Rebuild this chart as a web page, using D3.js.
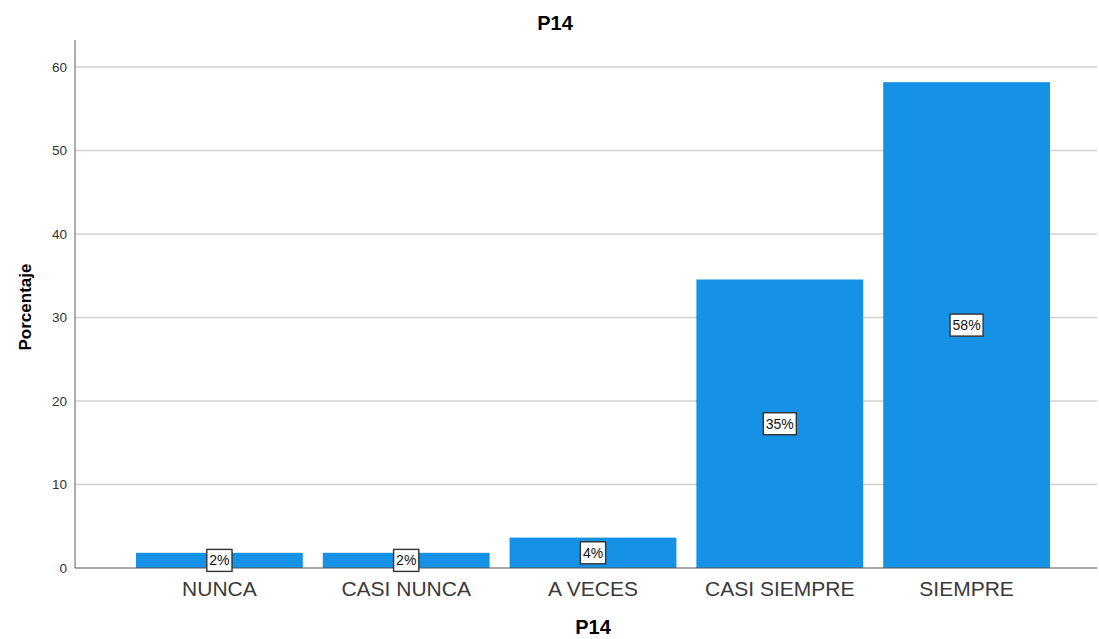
<!DOCTYPE html>
<html>
<head>
<meta charset="utf-8">
<script src="https://cdn.jsdelivr.net/npm/d3@7"></script>
<style>
  html, body { margin: 0; padding: 0; background: #fff; }
  svg { display: block; font-family: "Liberation Sans", Arial, sans-serif; }
</style>
</head>
<body>
<svg id="chart" width="1099" height="639"></svg>
<script>
// Categories and percentages (n = 55)
const categories = ["NUNCA", "CASI NUNCA", "A VECES", "CASI SIEMPRE", "SIEMPRE"];
const percentages = [1.82, 1.82, 3.64, 34.55, 58.18];
const valueLabels = ["2%", "2%", "4%", "35%", "58%"];
const yTicks = [0, 10, 20, 30, 40, 50, 60];

const svg = d3.select("#chart");
const plot = { left: 75, right: 1097, top: 40, bottom: 568 };

const x = d3.scaleBand()
  .domain(categories)
  .range([126, 1060])
  .paddingInner(0.107)
  .paddingOuter(0.0535);

const y = d3.scaleLinear()
  .domain([0, 60])
  .range([plot.bottom, 67]);

// Gridlines
svg.append("g")
  .selectAll("line")
  .data(yTicks.filter(d => d > 0))
  .join("line")
  .attr("x1", plot.left)
  .attr("x2", plot.right)
  .attr("y1", d => y(d))
  .attr("y2", d => y(d))
  .attr("stroke", "#d0d0d0")
  .attr("stroke-width", 1.5);

// Bars
svg.append("g")
  .selectAll("rect")
  .data(categories)
  .join("rect")
  .attr("x", d => x(d))
  .attr("width", x.bandwidth())
  .attr("y", (d, i) => y(percentages[i]))
  .attr("height", (d, i) => y(0) - y(percentages[i]))
  .attr("fill", "#1591e6");

// Axes lines
svg.append("line")
  .attr("x1", plot.left).attr("x2", plot.left)
  .attr("y1", plot.top).attr("y2", plot.bottom)
  .attr("stroke", "#777").attr("stroke-width", 1.2);
svg.append("line")
  .attr("x1", plot.left).attr("x2", plot.right)
  .attr("y1", plot.bottom).attr("y2", plot.bottom)
  .attr("stroke", "#555").attr("stroke-width", 1.2);

// Y tick labels
svg.append("g")
  .selectAll("text")
  .data(yTicks)
  .join("text")
  .attr("x", 67)
  .attr("y", d => y(d))
  .attr("dy", "0.36em")
  .attr("text-anchor", "end")
  .attr("font-size", 13.5)
  .attr("fill", "#333")
  .text(d => d);

// Category labels
svg.append("g")
  .selectAll("text")
  .data(categories)
  .join("text")
  .attr("x", d => x(d) + x.bandwidth() / 2)
  .attr("y", 596)
  .attr("text-anchor", "middle")
  .attr("font-size", 21)
  .attr("fill", "#3a3a3a")
  .text(d => d);

// Value labels in boxes
const lab = svg.append("g")
  .selectAll("g")
  .data(categories)
  .join("g")
  .attr("transform", (d, i) =>
    `translate(${x(d) + x.bandwidth() / 2},${y(percentages[i] / 2)})`);

lab.append("text")
  .attr("text-anchor", "middle")
  .attr("dy", "0.36em")
  .attr("font-size", 14)
  .attr("fill", "#111")
  .text((d, i) => valueLabels[i])
  .each(function () {
    const b = this.getBBox();
    d3.select(this.parentNode).insert("rect", "text")
      .attr("x", b.x - 2.5)
      .attr("y", -11)
      .attr("width", b.width + 5)
      .attr("height", 22)
      .attr("fill", "#fff")
      .attr("stroke", "#333")
      .attr("stroke-width", 1.4);
  });

// Titles
svg.append("text")
  .attr("x", 555).attr("y", 30)
  .attr("text-anchor", "middle")
  .attr("font-size", 20).attr("font-weight", "bold")
  .text("P14");

svg.append("text")
  .attr("x", 593).attr("y", 634)
  .attr("text-anchor", "middle")
  .attr("font-size", 20).attr("font-weight", "bold")
  .text("P14");

svg.append("text")
  .attr("transform", "translate(31,307) rotate(-90)")
  .attr("text-anchor", "middle")
  .attr("font-size", 17).attr("font-weight", "bold")
  .text("Porcentaje");
</script>
</body>
</html>
